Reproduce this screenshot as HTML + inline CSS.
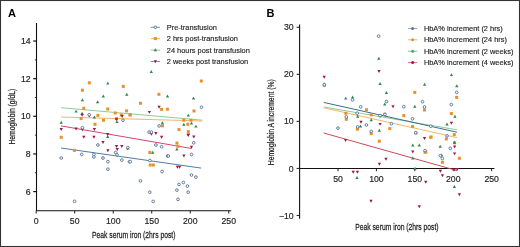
<!DOCTYPE html>
<html><head><meta charset="utf-8"><style>
html,body{margin:0;padding:0;background:#fff;}
body{width:520px;height:247px;overflow:hidden;position:relative;}
svg{position:absolute;left:0;top:0;will-change:transform;}
text{font-family:"Liberation Sans",sans-serif;fill:#1f1f1f;}
.tk{font-size:8.7px;stroke:#1f1f1f;stroke-width:0.18px;}
.lg{font-size:7.4px;stroke:#1f1f1f;stroke-width:0.15px;}
.pl{font-size:11px;font-weight:bold;fill:#000;}
.at{font-size:9.6px;stroke:#1f1f1f;stroke-width:0.25px;}
</style></head><body>
<svg width="520" height="247" viewBox="0 0 520 247">
<rect x="0.5" y="0.5" width="519" height="246" fill="none" stroke="#333" stroke-width="1.1"/>
<line x1="36.5" y1="23.0" x2="36.5" y2="210.8" stroke="#111" stroke-width="1.1"/>
<line x1="35.9" y1="210.8" x2="231.2" y2="210.8" stroke="#111" stroke-width="1.1"/>
<line x1="33.2" y1="41.02" x2="36.5" y2="41.02" stroke="#111" stroke-width="1.2"/>
<text x="30.6" y="44.120000000000005" text-anchor="end" class="tk">14</text>
<line x1="33.2" y1="78.66" x2="36.5" y2="78.66" stroke="#111" stroke-width="1.2"/>
<text x="30.6" y="81.75999999999999" text-anchor="end" class="tk">12</text>
<line x1="33.2" y1="116.3" x2="36.5" y2="116.3" stroke="#111" stroke-width="1.2"/>
<text x="30.6" y="119.39999999999999" text-anchor="end" class="tk">10</text>
<line x1="33.2" y1="153.94" x2="36.5" y2="153.94" stroke="#111" stroke-width="1.2"/>
<text x="30.6" y="157.04" text-anchor="end" class="tk">8</text>
<line x1="33.2" y1="191.58" x2="36.5" y2="191.58" stroke="#111" stroke-width="1.2"/>
<text x="30.6" y="194.68" text-anchor="end" class="tk">6</text>
<line x1="34.9" y1="59.84" x2="36.5" y2="59.84" stroke="#1e1e1e" stroke-width="0.9"/>
<line x1="34.9" y1="97.48" x2="36.5" y2="97.48" stroke="#1e1e1e" stroke-width="0.9"/>
<line x1="34.9" y1="135.12" x2="36.5" y2="135.12" stroke="#1e1e1e" stroke-width="0.9"/>
<line x1="34.9" y1="172.76" x2="36.5" y2="172.76" stroke="#1e1e1e" stroke-width="0.9"/>
<line x1="36.2" y1="210.8" x2="36.2" y2="213.5" stroke="#1e1e1e" stroke-width="1"/>
<text x="36.2" y="223.9" text-anchor="middle" class="tk">0</text>
<line x1="74.71" y1="210.8" x2="74.71" y2="213.5" stroke="#1e1e1e" stroke-width="1"/>
<text x="74.71" y="223.9" text-anchor="middle" class="tk">50</text>
<line x1="113.22" y1="210.8" x2="113.22" y2="213.5" stroke="#1e1e1e" stroke-width="1"/>
<text x="113.22" y="223.9" text-anchor="middle" class="tk">100</text>
<line x1="151.73" y1="210.8" x2="151.73" y2="213.5" stroke="#1e1e1e" stroke-width="1"/>
<text x="151.73" y="223.9" text-anchor="middle" class="tk">150</text>
<line x1="190.24" y1="210.8" x2="190.24" y2="213.5" stroke="#1e1e1e" stroke-width="1"/>
<text x="190.24" y="223.9" text-anchor="middle" class="tk">200</text>
<line x1="228.75" y1="210.8" x2="228.75" y2="213.5" stroke="#1e1e1e" stroke-width="1"/>
<text x="228.75" y="223.9" text-anchor="middle" class="tk">250</text>
<line x1="299.6" y1="24.5" x2="299.6" y2="218.8" stroke="#111" stroke-width="1.1"/>
<line x1="299" y1="168.5" x2="494.4" y2="168.5" stroke="#111" stroke-width="1.1"/>
<line x1="296.6" y1="27.25" x2="299.6" y2="27.25" stroke="#1e1e1e" stroke-width="1"/>
<text x="293.70000000000005" y="30.35" text-anchor="end" class="tk">30</text>
<line x1="296.6" y1="74.3" x2="299.6" y2="74.3" stroke="#1e1e1e" stroke-width="1"/>
<text x="293.70000000000005" y="77.39999999999999" text-anchor="end" class="tk">20</text>
<line x1="296.6" y1="121.35" x2="299.6" y2="121.35" stroke="#1e1e1e" stroke-width="1"/>
<text x="293.70000000000005" y="124.44999999999999" text-anchor="end" class="tk">10</text>
<line x1="296.6" y1="168.4" x2="299.6" y2="168.4" stroke="#1e1e1e" stroke-width="1"/>
<text x="293.70000000000005" y="171.5" text-anchor="end" class="tk">0</text>
<line x1="296.6" y1="215.45" x2="299.6" y2="215.45" stroke="#1e1e1e" stroke-width="1"/>
<text x="293.70000000000005" y="218.54999999999998" text-anchor="end" class="tk">−10</text>
<line x1="338.01" y1="168.5" x2="338.01" y2="171.2" stroke="#1e1e1e" stroke-width="1"/>
<text x="338.01" y="182.0" text-anchor="middle" class="tk">50</text>
<line x1="376.42" y1="168.5" x2="376.42" y2="171.2" stroke="#1e1e1e" stroke-width="1"/>
<text x="376.42" y="182.0" text-anchor="middle" class="tk">100</text>
<line x1="414.83" y1="168.5" x2="414.83" y2="171.2" stroke="#1e1e1e" stroke-width="1"/>
<text x="414.83" y="182.0" text-anchor="middle" class="tk">150</text>
<line x1="453.24" y1="168.5" x2="453.24" y2="171.2" stroke="#1e1e1e" stroke-width="1"/>
<text x="453.24" y="182.0" text-anchor="middle" class="tk">200</text>
<line x1="491.65" y1="168.5" x2="491.65" y2="171.2" stroke="#1e1e1e" stroke-width="1"/>
<text x="491.65" y="182.0" text-anchor="middle" class="tk">250</text>
<line x1="61" y1="107.7" x2="202.3" y2="120.2" stroke="#8dcb9c" stroke-width="1"/>
<line x1="61" y1="117.0" x2="202.3" y2="121.0" stroke="#f4b565" stroke-width="1"/>
<line x1="61" y1="125.9" x2="191.5" y2="148.5" stroke="#d8446e" stroke-width="1"/>
<line x1="61" y1="148.0" x2="201.2" y2="168.1" stroke="#4f7ca4" stroke-width="1"/>
<line x1="323.7" y1="107.0" x2="457" y2="129.8" stroke="#8dcb9c" stroke-width="1"/>
<line x1="323.7" y1="107.8" x2="457" y2="137.6" stroke="#f4b565" stroke-width="1"/>
<line x1="323.7" y1="102.4" x2="457" y2="132.2" stroke="#3f6b8c" stroke-width="1"/>
<line x1="323.7" y1="133.0" x2="457" y2="170.6" stroke="#cc4a58" stroke-width="1"/>
<rect x="87.80" y="81.30" width="3" height="3" fill="#e8912c"/>
<rect x="80.90" y="88.70" width="3" height="3" fill="#e8912c"/>
<rect x="121.80" y="84.90" width="3" height="3" fill="#e8912c"/>
<rect x="199.80" y="79.50" width="3" height="3" fill="#e8912c"/>
<rect x="157.40" y="92.80" width="3" height="3" fill="#e8912c"/>
<rect x="82.30" y="106.80" width="3" height="3" fill="#e8912c"/>
<rect x="106.20" y="107.50" width="3" height="3" fill="#e8912c"/>
<rect x="139.00" y="101.80" width="3" height="3" fill="#e8912c"/>
<rect x="160.10" y="107.90" width="3" height="3" fill="#e8912c"/>
<rect x="165.90" y="107.70" width="3" height="3" fill="#e8912c"/>
<rect x="125.10" y="109.40" width="3" height="3" fill="#e8912c"/>
<rect x="113.80" y="111.50" width="3" height="3" fill="#e8912c"/>
<rect x="119.80" y="113.40" width="3" height="3" fill="#e8912c"/>
<rect x="128.40" y="113.40" width="3" height="3" fill="#e8912c"/>
<rect x="96.40" y="113.90" width="3" height="3" fill="#e8912c"/>
<rect x="128.80" y="113.40" width="3" height="3" fill="#e8912c"/>
<rect x="79.60" y="117.10" width="3" height="3" fill="#e8912c"/>
<rect x="102.00" y="118.70" width="3" height="3" fill="#e8912c"/>
<rect x="115.00" y="117.10" width="3" height="3" fill="#e8912c"/>
<rect x="93.50" y="122.80" width="3" height="3" fill="#e8912c"/>
<rect x="160.90" y="124.40" width="3" height="3" fill="#e8912c"/>
<rect x="192.50" y="109.50" width="3" height="3" fill="#e8912c"/>
<rect x="182.30" y="118.70" width="3" height="3" fill="#e8912c"/>
<rect x="189.50" y="118.70" width="3" height="3" fill="#e8912c"/>
<rect x="186.30" y="122.80" width="3" height="3" fill="#e8912c"/>
<rect x="186.80" y="130.10" width="3" height="3" fill="#e8912c"/>
<rect x="177.50" y="128.10" width="3" height="3" fill="#e8912c"/>
<rect x="59.70" y="135.80" width="3" height="3" fill="#e8912c"/>
<rect x="148.30" y="151.00" width="3" height="3" fill="#e8912c"/>
<rect x="148.70" y="163.50" width="3" height="3" fill="#e8912c"/>
<rect x="151.80" y="163.50" width="3" height="3" fill="#e8912c"/>
<rect x="175.40" y="141.60" width="3" height="3" fill="#e8912c"/>
<rect x="176.50" y="144.80" width="3" height="3" fill="#e8912c"/>
<rect x="72.90" y="148.90" width="3" height="3" fill="#e8912c"/>
<path d="M107.80 81.65L109.45 84.60L106.15 84.60Z" fill="#2f8550"/>
<path d="M82.40 98.25L84.05 101.20L80.75 101.20Z" fill="#2f8550"/>
<path d="M126.80 92.75L128.45 95.70L125.15 95.70Z" fill="#2f8550"/>
<path d="M103.30 94.45L104.95 97.40L101.65 97.40Z" fill="#2f8550"/>
<path d="M97.60 100.25L99.25 103.20L95.95 103.20Z" fill="#2f8550"/>
<path d="M151.30 70.05L152.95 73.00L149.65 73.00Z" fill="#2f8550"/>
<path d="M167.50 94.55L169.15 97.50L165.85 97.50Z" fill="#2f8550"/>
<path d="M193.50 96.45L195.15 99.40L191.85 99.40Z" fill="#2f8550"/>
<path d="M76.10 109.65L77.75 112.60L74.45 112.60Z" fill="#2f8550"/>
<path d="M82.10 111.75L83.75 114.70L80.45 114.70Z" fill="#2f8550"/>
<path d="M94.40 115.45L96.05 118.40L92.75 118.40Z" fill="#2f8550"/>
<path d="M61.20 120.75L62.85 123.70L59.55 123.70Z" fill="#2f8550"/>
<path d="M117.00 120.15L118.65 123.10L115.35 123.10Z" fill="#2f8550"/>
<path d="M162.40 121.25L164.05 124.20L160.75 124.20Z" fill="#2f8550"/>
<path d="M188.30 113.65L189.95 116.60L186.65 116.60Z" fill="#2f8550"/>
<path d="M191.50 121.45L193.15 124.40L189.85 124.40Z" fill="#2f8550"/>
<path d="M183.80 122.85L185.45 125.80L182.15 125.80Z" fill="#2f8550"/>
<path d="M195.90 124.65L197.55 127.60L194.25 127.60Z" fill="#2f8550"/>
<path d="M152.70 150.75L154.35 153.70L151.05 153.70Z" fill="#2f8550"/>
<path d="M176.90 147.55L178.55 150.50L175.25 150.50Z" fill="#2f8550"/>
<path d="M127.80 146.25L129.45 149.20L126.15 149.20Z" fill="#2f8550"/>
<path d="M107.70 135.05L109.35 138.00L106.05 138.00Z" fill="#2f8550"/>
<path d="M159.10 108.65L160.75 105.70L157.45 105.70Z" fill="#9a1a48"/>
<path d="M149.40 113.85L151.05 110.90L147.75 110.90Z" fill="#9a1a48"/>
<path d="M82.10 116.75L83.75 113.80L80.45 113.80Z" fill="#9a1a48"/>
<path d="M89.20 117.55L90.85 114.60L87.55 114.60Z" fill="#9a1a48"/>
<path d="M122.10 117.95L123.75 115.00L120.45 115.00Z" fill="#9a1a48"/>
<path d="M116.50 121.25L118.15 118.30L114.85 118.30Z" fill="#9a1a48"/>
<path d="M61.20 131.05L62.85 128.10L59.55 128.10Z" fill="#9a1a48"/>
<path d="M76.10 130.55L77.75 127.60L74.45 127.60Z" fill="#9a1a48"/>
<path d="M82.40 131.25L84.05 128.30L80.75 128.30Z" fill="#9a1a48"/>
<path d="M94.40 130.95L96.05 128.00L92.75 128.00Z" fill="#9a1a48"/>
<path d="M83.80 138.75L85.45 135.80L82.15 135.80Z" fill="#9a1a48"/>
<path d="M93.90 138.75L95.55 135.80L92.25 135.80Z" fill="#9a1a48"/>
<path d="M107.70 136.05L109.35 133.10L106.05 133.10Z" fill="#9a1a48"/>
<path d="M151.40 135.75L153.05 132.80L149.75 132.80Z" fill="#9a1a48"/>
<path d="M179.60 168.75L181.25 165.80L177.95 165.80Z" fill="#9a1a48"/>
<path d="M103.00 144.05L104.65 141.10L101.35 141.10Z" fill="#9a1a48"/>
<path d="M116.50 148.05L118.15 145.10L114.85 145.10Z" fill="#9a1a48"/>
<path d="M121.80 148.05L123.45 145.10L120.15 145.10Z" fill="#9a1a48"/>
<path d="M127.80 150.25L129.45 147.30L126.15 147.30Z" fill="#9a1a48"/>
<path d="M117.30 151.05L118.95 148.10L115.65 148.10Z" fill="#9a1a48"/>
<path d="M107.90 152.15L109.55 149.20L106.25 149.20Z" fill="#9a1a48"/>
<path d="M155.90 134.95L157.55 132.00L154.25 132.00Z" fill="#9a1a48"/>
<path d="M161.60 138.75L163.25 135.80L159.95 135.80Z" fill="#9a1a48"/>
<path d="M188.30 136.35L189.95 133.40L186.65 133.40Z" fill="#9a1a48"/>
<path d="M193.80 138.55L195.45 135.60L192.15 135.60Z" fill="#9a1a48"/>
<path d="M191.50 148.75L193.15 145.80L189.85 145.80Z" fill="#9a1a48"/>
<path d="M183.90 157.45L185.55 154.50L182.25 154.50Z" fill="#9a1a48"/>
<path d="M177.40 168.75L179.05 165.80L175.75 165.80Z" fill="#9a1a48"/>
<path d="M188.20 137.05L189.85 134.10L186.55 134.10Z" fill="#9a1a48"/>
<circle cx="201.5" cy="107.2" r="1.35" fill="#fff" stroke="#56708e" stroke-width="0.9"/>
<circle cx="89.2" cy="114.7" r="1.35" fill="#fff" stroke="#56708e" stroke-width="0.9"/>
<circle cx="82.4" cy="127.7" r="1.35" fill="#fff" stroke="#56708e" stroke-width="0.9"/>
<circle cx="123" cy="120.2" r="1.35" fill="#fff" stroke="#56708e" stroke-width="0.9"/>
<circle cx="159.1" cy="125.9" r="1.35" fill="#fff" stroke="#56708e" stroke-width="0.9"/>
<circle cx="149.1" cy="132.1" r="1.35" fill="#fff" stroke="#56708e" stroke-width="0.9"/>
<circle cx="151.5" cy="132.1" r="1.35" fill="#fff" stroke="#56708e" stroke-width="0.9"/>
<circle cx="149.9" cy="160.5" r="1.35" fill="#fff" stroke="#56708e" stroke-width="0.9"/>
<circle cx="81.7" cy="154.4" r="1.35" fill="#fff" stroke="#56708e" stroke-width="0.9"/>
<circle cx="93.9" cy="154.4" r="1.35" fill="#fff" stroke="#56708e" stroke-width="0.9"/>
<circle cx="61.2" cy="158" r="1.35" fill="#fff" stroke="#56708e" stroke-width="0.9"/>
<circle cx="93.9" cy="156.9" r="1.35" fill="#fff" stroke="#56708e" stroke-width="0.9"/>
<circle cx="97.9" cy="145" r="1.35" fill="#fff" stroke="#56708e" stroke-width="0.9"/>
<circle cx="115.7" cy="152.5" r="1.35" fill="#fff" stroke="#56708e" stroke-width="0.9"/>
<circle cx="117" cy="154.8" r="1.35" fill="#fff" stroke="#56708e" stroke-width="0.9"/>
<circle cx="103" cy="158" r="1.35" fill="#fff" stroke="#56708e" stroke-width="0.9"/>
<circle cx="107.9" cy="161.7" r="1.35" fill="#fff" stroke="#56708e" stroke-width="0.9"/>
<circle cx="121.8" cy="160.1" r="1.35" fill="#fff" stroke="#56708e" stroke-width="0.9"/>
<circle cx="129.4" cy="161.7" r="1.35" fill="#fff" stroke="#56708e" stroke-width="0.9"/>
<circle cx="107.9" cy="169.2" r="1.35" fill="#fff" stroke="#56708e" stroke-width="0.9"/>
<circle cx="155.9" cy="145" r="1.35" fill="#fff" stroke="#56708e" stroke-width="0.9"/>
<circle cx="161.6" cy="146.7" r="1.35" fill="#fff" stroke="#56708e" stroke-width="0.9"/>
<circle cx="167.6" cy="156" r="1.35" fill="#fff" stroke="#56708e" stroke-width="0.9"/>
<circle cx="130.3" cy="161.7" r="1.35" fill="#fff" stroke="#56708e" stroke-width="0.9"/>
<circle cx="162.1" cy="171.5" r="1.35" fill="#fff" stroke="#56708e" stroke-width="0.9"/>
<circle cx="193.7" cy="142.8" r="1.35" fill="#fff" stroke="#56708e" stroke-width="0.9"/>
<circle cx="191.5" cy="154.5" r="1.35" fill="#fff" stroke="#56708e" stroke-width="0.9"/>
<circle cx="168.3" cy="156" r="1.35" fill="#fff" stroke="#56708e" stroke-width="0.9"/>
<circle cx="191.5" cy="175" r="1.35" fill="#fff" stroke="#56708e" stroke-width="0.9"/>
<circle cx="195.9" cy="177.1" r="1.35" fill="#fff" stroke="#56708e" stroke-width="0.9"/>
<circle cx="183.4" cy="182.5" r="1.35" fill="#fff" stroke="#56708e" stroke-width="0.9"/>
<circle cx="179" cy="184.4" r="1.35" fill="#fff" stroke="#56708e" stroke-width="0.9"/>
<circle cx="187.4" cy="186.1" r="1.35" fill="#fff" stroke="#56708e" stroke-width="0.9"/>
<circle cx="176.9" cy="190.1" r="1.35" fill="#fff" stroke="#56708e" stroke-width="0.9"/>
<circle cx="188.2" cy="192.2" r="1.35" fill="#fff" stroke="#56708e" stroke-width="0.9"/>
<circle cx="178" cy="199.3" r="1.35" fill="#fff" stroke="#56708e" stroke-width="0.9"/>
<circle cx="140.5" cy="180.9" r="1.35" fill="#fff" stroke="#56708e" stroke-width="0.9"/>
<circle cx="149.8" cy="192.2" r="1.35" fill="#fff" stroke="#56708e" stroke-width="0.9"/>
<circle cx="153.2" cy="201.4" r="1.35" fill="#fff" stroke="#56708e" stroke-width="0.9"/>
<circle cx="74.6" cy="201.3" r="1.35" fill="#fff" stroke="#56708e" stroke-width="0.9"/>
<circle cx="127.8" cy="147.5" r="1.35" fill="#fff" stroke="#56708e" stroke-width="0.9"/>
<rect x="322.80" y="83.80" width="3" height="3" fill="#e8912c"/>
<rect x="344.30" y="111.80" width="3" height="3" fill="#e8912c"/>
<rect x="344.80" y="117.80" width="3" height="3" fill="#e8912c"/>
<rect x="365.00" y="108.30" width="3" height="3" fill="#e8912c"/>
<rect x="369.70" y="113.30" width="3" height="3" fill="#e8912c"/>
<rect x="378.60" y="114.20" width="3" height="3" fill="#e8912c"/>
<rect x="383.20" y="112.80" width="3" height="3" fill="#e8912c"/>
<rect x="355.90" y="127.70" width="3" height="3" fill="#e8912c"/>
<rect x="369.70" y="132.20" width="3" height="3" fill="#e8912c"/>
<rect x="388.30" y="127.10" width="3" height="3" fill="#e8912c"/>
<rect x="377.80" y="139.70" width="3" height="3" fill="#e8912c"/>
<rect x="413.30" y="90.90" width="3" height="3" fill="#e8912c"/>
<rect x="423.00" y="108.50" width="3" height="3" fill="#e8912c"/>
<rect x="402.30" y="114.10" width="3" height="3" fill="#e8912c"/>
<rect x="411.10" y="125.00" width="3" height="3" fill="#e8912c"/>
<rect x="429.50" y="135.60" width="3" height="3" fill="#e8912c"/>
<rect x="423.50" y="150.70" width="3" height="3" fill="#e8912c"/>
<rect x="449.90" y="112.10" width="3" height="3" fill="#e8912c"/>
<rect x="452.80" y="133.10" width="3" height="3" fill="#e8912c"/>
<rect x="444.80" y="137.50" width="3" height="3" fill="#e8912c"/>
<rect x="429.30" y="135.70" width="3" height="3" fill="#e8912c"/>
<rect x="455.20" y="95.90" width="3" height="3" fill="#e8912c"/>
<rect x="457.90" y="156.80" width="3" height="3" fill="#e8912c"/>
<rect x="440.90" y="160.80" width="3" height="3" fill="#e8912c"/>
<rect x="424.30" y="150.50" width="3" height="3" fill="#e8912c"/>
<rect x="414.50" y="131.50" width="3" height="3" fill="#e8912c"/>
<rect x="453.10" y="141.30" width="3" height="3" fill="#e8912c"/>
<path d="M378.80 56.85L380.45 59.80L377.15 59.80Z" fill="#2f8550"/>
<path d="M380.10 82.05L381.75 85.00L378.45 85.00Z" fill="#2f8550"/>
<path d="M386.40 91.05L388.05 94.00L384.75 94.00Z" fill="#2f8550"/>
<path d="M345.70 96.65L347.35 99.60L344.05 99.60Z" fill="#2f8550"/>
<path d="M352.60 95.45L354.25 98.40L350.95 98.40Z" fill="#2f8550"/>
<path d="M384.70 102.55L386.35 105.50L383.05 105.50Z" fill="#2f8550"/>
<path d="M357.70 114.75L359.35 117.70L356.05 117.70Z" fill="#2f8550"/>
<path d="M360.50 124.55L362.15 127.50L358.85 127.50Z" fill="#2f8550"/>
<path d="M371.20 118.35L372.85 121.30L369.55 121.30Z" fill="#2f8550"/>
<path d="M379.30 128.75L380.95 131.70L377.65 131.70Z" fill="#2f8550"/>
<path d="M424.60 82.85L426.25 85.80L422.95 85.80Z" fill="#2f8550"/>
<path d="M414.80 104.75L416.45 107.70L413.15 107.70Z" fill="#2f8550"/>
<path d="M412.80 143.45L414.45 146.40L411.15 146.40Z" fill="#2f8550"/>
<path d="M419.30 143.45L420.95 146.40L417.65 146.40Z" fill="#2f8550"/>
<path d="M412.80 156.45L414.45 159.40L411.15 159.40Z" fill="#2f8550"/>
<path d="M451.40 73.15L453.05 76.10L449.75 76.10Z" fill="#2f8550"/>
<path d="M456.80 84.35L458.45 87.30L455.15 87.30Z" fill="#2f8550"/>
<path d="M454.90 114.85L456.55 117.80L453.25 117.80Z" fill="#2f8550"/>
<path d="M447.00 122.55L448.65 125.50L445.35 125.50Z" fill="#2f8550"/>
<path d="M440.20 144.85L441.85 147.80L438.55 147.80Z" fill="#2f8550"/>
<path d="M441.60 153.45L443.25 156.40L439.95 156.40Z" fill="#2f8550"/>
<path d="M454.50 140.75L456.15 143.70L452.85 143.70Z" fill="#2f8550"/>
<path d="M454.40 184.95L456.05 187.90L452.75 187.90Z" fill="#2f8550"/>
<path d="M357.00 175.95L358.65 178.90L355.35 178.90Z" fill="#2f8550"/>
<path d="M415.00 166.75L416.65 169.70L413.35 169.70Z" fill="#2f8550"/>
<path d="M324.30 82.25L325.95 85.20L322.65 85.20Z" fill="#2f8550"/>
<path d="M324.20 78.75L325.85 75.80L322.55 75.80Z" fill="#9a1a48"/>
<path d="M379.00 72.95L380.65 70.00L377.35 70.00Z" fill="#9a1a48"/>
<path d="M393.00 108.15L394.65 105.20L391.35 105.20Z" fill="#9a1a48"/>
<path d="M361.00 123.65L362.65 120.70L359.35 120.70Z" fill="#9a1a48"/>
<path d="M380.10 125.85L381.75 122.90L378.45 122.90Z" fill="#9a1a48"/>
<path d="M345.60 141.95L347.25 139.00L343.95 139.00Z" fill="#9a1a48"/>
<path d="M424.50 140.05L426.15 137.10L422.85 137.10Z" fill="#9a1a48"/>
<path d="M412.80 153.45L414.45 150.50L411.15 150.50Z" fill="#9a1a48"/>
<path d="M386.00 160.75L387.65 157.80L384.35 157.80Z" fill="#9a1a48"/>
<path d="M379.40 165.65L381.05 162.70L377.75 162.70Z" fill="#9a1a48"/>
<path d="M451.40 124.75L453.05 121.80L449.75 121.80Z" fill="#9a1a48"/>
<path d="M454.60 148.45L456.25 145.50L452.95 145.50Z" fill="#9a1a48"/>
<path d="M454.60 155.35L456.25 152.40L452.95 152.40Z" fill="#9a1a48"/>
<path d="M440.40 172.75L442.05 169.80L438.75 169.80Z" fill="#9a1a48"/>
<path d="M442.40 177.25L444.05 174.30L440.75 174.30Z" fill="#9a1a48"/>
<path d="M425.70 183.75L427.35 180.80L424.05 180.80Z" fill="#9a1a48"/>
<path d="M459.40 196.25L461.05 193.30L457.75 193.30Z" fill="#9a1a48"/>
<path d="M419.30 208.25L420.95 205.30L417.65 205.30Z" fill="#9a1a48"/>
<path d="M371.00 202.75L372.65 199.80L369.35 199.80Z" fill="#9a1a48"/>
<path d="M353.20 173.75L354.85 170.80L351.55 170.80Z" fill="#9a1a48"/>
<path d="M357.40 173.75L359.05 170.80L355.75 170.80Z" fill="#9a1a48"/>
<path d="M454.40 171.15L456.05 168.20L452.75 168.20Z" fill="#9a1a48"/>
<path d="M457.30 170.95L458.95 168.00L455.65 168.00Z" fill="#9a1a48"/>
<circle cx="378.6" cy="36.2" r="1.35" fill="#fff" stroke="#4a70a2" stroke-width="0.9"/>
<circle cx="352.6" cy="99.8" r="1.35" fill="#fff" stroke="#4a70a2" stroke-width="0.9"/>
<circle cx="360.7" cy="106.8" r="1.35" fill="#fff" stroke="#4a70a2" stroke-width="0.9"/>
<circle cx="357.2" cy="113.2" r="1.35" fill="#fff" stroke="#4a70a2" stroke-width="0.9"/>
<circle cx="346.3" cy="116.9" r="1.35" fill="#fff" stroke="#4a70a2" stroke-width="0.9"/>
<circle cx="338" cy="128.1" r="1.35" fill="#fff" stroke="#4a70a2" stroke-width="0.9"/>
<circle cx="357.7" cy="126.9" r="1.35" fill="#fff" stroke="#4a70a2" stroke-width="0.9"/>
<circle cx="366.4" cy="125" r="1.35" fill="#fff" stroke="#4a70a2" stroke-width="0.9"/>
<circle cx="386.5" cy="101.5" r="1.35" fill="#fff" stroke="#4a70a2" stroke-width="0.9"/>
<circle cx="385" cy="114.4" r="1.35" fill="#fff" stroke="#4a70a2" stroke-width="0.9"/>
<circle cx="380" cy="115.6" r="1.35" fill="#fff" stroke="#4a70a2" stroke-width="0.9"/>
<circle cx="391.4" cy="123.8" r="1.35" fill="#fff" stroke="#4a70a2" stroke-width="0.9"/>
<circle cx="371.2" cy="131.5" r="1.35" fill="#fff" stroke="#4a70a2" stroke-width="0.9"/>
<circle cx="422.5" cy="101.7" r="1.35" fill="#fff" stroke="#4a70a2" stroke-width="0.9"/>
<circle cx="403.8" cy="106.7" r="1.35" fill="#fff" stroke="#4a70a2" stroke-width="0.9"/>
<circle cx="424.5" cy="107" r="1.35" fill="#fff" stroke="#4a70a2" stroke-width="0.9"/>
<circle cx="412.5" cy="118.8" r="1.35" fill="#fff" stroke="#4a70a2" stroke-width="0.9"/>
<circle cx="415.7" cy="132.8" r="1.35" fill="#fff" stroke="#4a70a2" stroke-width="0.9"/>
<circle cx="425" cy="150.6" r="1.35" fill="#fff" stroke="#4a70a2" stroke-width="0.9"/>
<circle cx="430.8" cy="126.2" r="1.35" fill="#fff" stroke="#4a70a2" stroke-width="0.9"/>
<circle cx="447" cy="135.9" r="1.35" fill="#fff" stroke="#4a70a2" stroke-width="0.9"/>
<circle cx="450.3" cy="148.3" r="1.35" fill="#fff" stroke="#4a70a2" stroke-width="0.9"/>
<circle cx="442.4" cy="158.5" r="1.35" fill="#fff" stroke="#4a70a2" stroke-width="0.9"/>
<circle cx="440.4" cy="155.7" r="1.35" fill="#fff" stroke="#4a70a2" stroke-width="0.9"/>
<circle cx="456.7" cy="92.4" r="1.35" fill="#fff" stroke="#4a70a2" stroke-width="0.9"/>
<circle cx="451.3" cy="104.6" r="1.35" fill="#fff" stroke="#4a70a2" stroke-width="0.9"/>
<circle cx="324.3" cy="84.7" r="1.35" fill="#fff" stroke="#4a70a2" stroke-width="0.9"/>
<line x1="150.7" y1="27.3" x2="160.0" y2="27.3" stroke="#7d93b3" stroke-width="1"/>
<circle cx="155.35" cy="27.3" r="1.3" fill="#fff" stroke="#4d6890" stroke-width="0.9"/>
<text x="166.8" y="29.95" class="lg">Pre-transfusion</text>
<line x1="150.7" y1="38.6" x2="160.0" y2="38.6" stroke="#f4b565" stroke-width="1"/>
<rect x="153.85" y="37.10" width="3" height="3" fill="#e8912c"/>
<text x="166.8" y="41.25" class="lg">2 hrs post-transfusion</text>
<line x1="150.7" y1="50.1" x2="160.0" y2="50.1" stroke="#8dcb9c" stroke-width="1"/>
<path d="M155.35 48.35L157.00 51.30L153.70 51.30Z" fill="#2f8550"/>
<text x="166.8" y="52.75" class="lg">24 hours post transfusion</text>
<line x1="150.7" y1="61.5" x2="160.0" y2="61.5" stroke="#d46a88" stroke-width="1"/>
<path d="M155.35 63.25L157.00 60.30L153.70 60.30Z" fill="#9a1a48"/>
<text x="166.8" y="64.15" class="lg">2 weeks post transfusion</text>
<line x1="408.0" y1="28.5" x2="417.3" y2="28.5" stroke="#93a6c2" stroke-width="1"/>
<circle cx="412.65" cy="28.5" r="1.5" fill="#5a7396"/>
<text x="423.9" y="31.15" class="lg">HbA% increment (2 hrs)</text>
<line x1="408.0" y1="39.8" x2="417.3" y2="39.8" stroke="#f4b565" stroke-width="1"/>
<circle cx="412.65" cy="39.8" r="1.5" fill="#e8912c"/>
<text x="423.9" y="42.449999999999996" class="lg">HbA% increment (24 hrs)</text>
<line x1="408.0" y1="51.2" x2="417.3" y2="51.2" stroke="#8dcb9c" stroke-width="1"/>
<circle cx="412.65" cy="51.2" r="1.5" fill="#49a56a"/>
<text x="423.9" y="53.85" class="lg">HbA% increment (2 weeks)</text>
<line x1="408.0" y1="62.6" x2="417.3" y2="62.6" stroke="#d46a88" stroke-width="1"/>
<circle cx="412.65" cy="62.6" r="1.5" fill="#9b1d45"/>
<text x="423.9" y="65.25" class="lg">HbA% increment (4 weeks)</text>
<text x="7.9" y="16.7" class="pl">A</text>
<text x="266.4" y="16.5" class="pl">B</text>
<text transform="translate(92,237.8) scale(0.705,1)" class="at">Peak serum iron (2hrs post)</text>
<text transform="translate(355.2,230.0) scale(0.705,1)" class="at">Peak serum iron (2hrs post)</text>
<text transform="translate(15.1,144.6) rotate(-90) scale(0.710,1)" class="at">Hemoglobin (g/dL)</text>
<text transform="translate(273.5,165.2) rotate(-90) scale(0.708,1)" class="at">Hemoglobin A increment (%)</text>
</svg>
</body></html>
